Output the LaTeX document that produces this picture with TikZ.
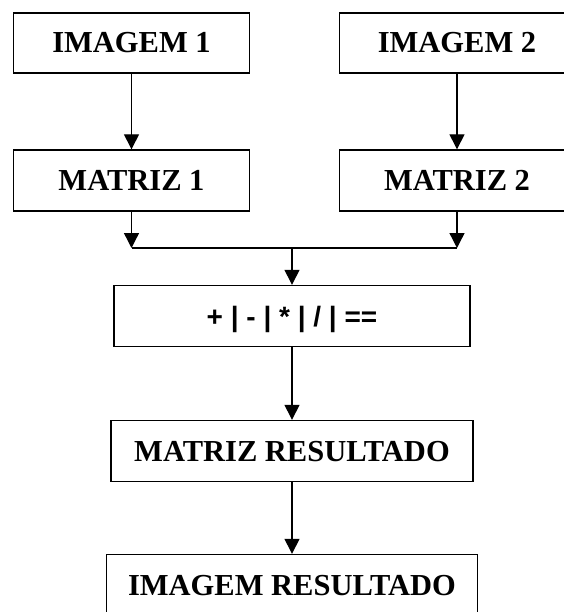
\documentclass[tikz,border=0pt]{standalone}
\usepackage{fontspec}
\setmainfont{Liberation Serif}
\newfontfamily\opfont{Liberation Sans}
\usetikzlibrary{arrows.meta}

\begin{document}
\begin{tikzpicture}[x=1pt,y=-1pt,box/.style={draw,line width=1.4pt,rectangle,minimum height=61pt,inner sep=0pt,text height=20pt,text depth=0pt,font=\fontsize{30.5}{36}\selectfont\bfseries},arr/.style={-{Triangle[length=15pt,width=15pt]},line width=1.4pt}]
  \useasboundingbox (0,0) rectangle (563,612);
  \node[box,minimum width=235.6pt,minimum height=60.3pt] (i1) at (131.5,43) {IMAGEM 1};
  \node[box,minimum width=235.6pt,minimum height=60.3pt] (i2) at (457,43) {IMAGEM 2};

  \node[box,minimum width=235.6pt] (m1) at (131.5,180.5) {MATRIZ 1};
  \node[box,minimum width=235.6pt] (m2) at (457,180.5) {MATRIZ 2};

  \node[box,minimum width=356pt,font=\opfont\bfseries\fontsize{28}{34}\selectfont] (op) at (292,316) {+ | - | * | / | ==};
  \node[box,minimum width=362pt] (mr) at (292,451) {MATRIZ RESULTADO};
  \node[box,minimum width=371pt] (ir) at (292,585) {IMAGEM RESULTADO};

  \coordinate (j) at (292,248);
  \draw[arr] (i1) -- (m1);
  \draw[arr] (i2) -- (m2);
  \draw[arr] (m1) -- (m1 |- j);
  \draw[arr] (m2) -- (m2 |- j);
  \draw[line width=1.4pt] (m1 |- j) -- (m2 |- j);
  \draw[arr] (j) -- (op);
  \draw[arr] (op) -- (mr);
  \draw[arr] (mr) -- (ir);
\end{tikzpicture}
\end{document}
